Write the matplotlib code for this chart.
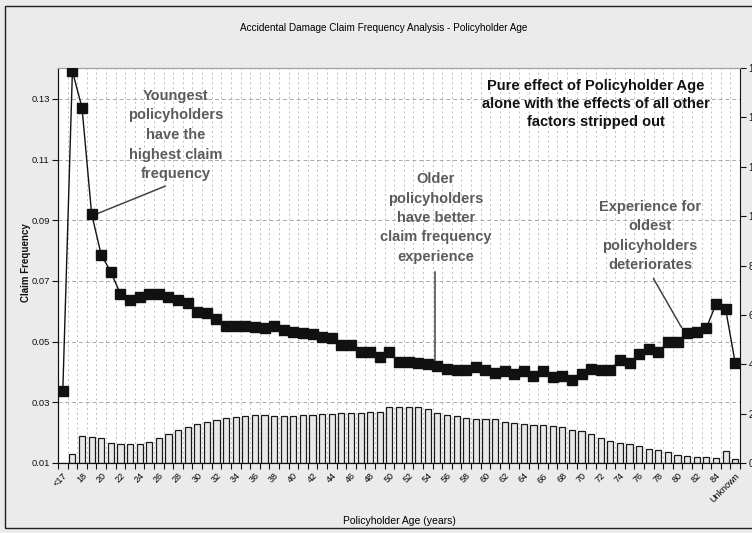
import matplotlib
matplotlib.use('Agg')
import matplotlib.pyplot as plt
from matplotlib.patches import Rectangle
from matplotlib.ticker import FixedLocator

# ---------------- data ----------------
categories = ['<17'] + [str(a) for a in range(17, 86)] + ['Unknown']

claim_frequency = [
    0.0338, 0.1392, 0.1271, 0.0921, 0.0786, 0.0730, 0.0657, 0.0637, 0.0647, 0.0657,
    0.0657, 0.0648, 0.0637, 0.0628, 0.0597, 0.0594, 0.0574, 0.0552, 0.0552, 0.0553,
    0.0547, 0.0546, 0.0553, 0.0538, 0.0533, 0.0530, 0.0525, 0.0514, 0.0511, 0.0489,
    0.0489, 0.0466, 0.0466, 0.0449, 0.0466, 0.0433, 0.0433, 0.0430, 0.0426, 0.0420,
    0.0410, 0.0407, 0.0407, 0.0416, 0.0407, 0.0397, 0.0403, 0.0393, 0.0403, 0.0387,
    0.0403, 0.0384, 0.0387, 0.0374, 0.0393, 0.0410, 0.0407, 0.0407, 0.0440, 0.0430,
    0.0459, 0.0476, 0.0466, 0.0499, 0.0499, 0.0529, 0.0532, 0.0545, 0.0624, 0.0608,
    0.0430,
]

exposure = [
    0.00, 0.36, 1.10, 1.07, 1.00, 0.82, 0.76, 0.76, 0.76, 0.86,
    1.00, 1.16, 1.34, 1.47, 1.57, 1.65, 1.74, 1.81, 1.85, 1.90,
    1.94, 1.93, 1.90, 1.90, 1.90, 1.93, 1.94, 1.98, 1.99, 2.04,
    2.04, 2.04, 2.08, 2.08, 2.25, 2.28, 2.28, 2.28, 2.19, 2.04,
    1.94, 1.90, 1.81, 1.77, 1.77, 1.77, 1.67, 1.63, 1.58, 1.54,
    1.54, 1.50, 1.44, 1.34, 1.30, 1.16, 1.03, 0.91, 0.82, 0.76,
    0.67, 0.57, 0.53, 0.44, 0.34, 0.27, 0.24, 0.25, 0.20, 0.50,
    0.15,
]

left_ticks = [0.01, 0.03, 0.05, 0.07, 0.09, 0.11, 0.13]
left_tick_labels = ['0.01', '0.03', '0.05', '0.07', '0.09', '0.11', '0.13']
right_ticks = [0, 2, 4, 6, 8, 10, 12, 14, 16]

title = 'Accidental Damage Claim Frequency Analysis - Policyholder Age'
x_label = 'Policyholder Age (years)'
y_label = 'Claim Frequency'

# ---------------- style ----------------
FONT = ['Liberation Sans Narrow', 'Liberation Sans', 'DejaVu Sans']
plt.rcParams['font.family'] = FONT
FIG_BG = '#ebebeb'
ANNOT = '#5c5c5c'
ANN_SIZE = 10.5
ANN_LS = 1.5

fig = plt.figure(figsize=(7.52, 5.33), dpi=100, facecolor=FIG_BG)
# outer frame
fig.add_artist(Rectangle((5 / 752, 5 / 533), 760 / 752, 522 / 533, transform=fig.transFigure,
                         fill=False, edgecolor='#202020', linewidth=1.0))

L, R, B, T = 58 / 752, 740 / 752, (533 - 463) / 533, (533 - 68) / 533
ax2 = fig.add_axes([L, B, R - L, T - B])                 # bars (right axis)
ax = fig.add_axes([L, B, R - L, T - B], sharex=ax2)     # line (left axis)
ax.set_zorder(ax2.get_zorder() + 1)
ax.patch.set_visible(False)
ax2.set_facecolor('white')

x = list(range(len(categories)))

ax2.bar(x, exposure, width=0.64, color='#e8e8e8', edgecolor='#1a1a1a', linewidth=0.9, zorder=2)
ax2.set_ylim(0, 16)
ax2.yaxis.tick_right()
ax2.set_yticks(right_ticks)
ax2.tick_params(axis='y', which='major', direction='out', length=4, width=0.8,
                labelsize=7, pad=2, colors='#111111')

ax.plot(x, claim_frequency, color='#111111', linewidth=1.0, marker='s', markersize=6.5,
        markerfacecolor='#111111', markeredgecolor='#111111', zorder=5)
ax.set_ylim(0.01, 0.1402)
ax.set_xlim(-0.5, len(categories) - 0.5)
ax.set_yticks(left_ticks)
ax.set_yticklabels(left_tick_labels)
ax.tick_params(axis='y', which='major', direction='out', length=4, width=0.8,
               labelsize=6.8, pad=2, colors='#111111')

# x ticks: labels every second category, tick marks at category boundaries
label_pos = list(range(0, len(categories), 2))
ax.set_xticks(label_pos)
ax.set_xticklabels([categories[i] for i in label_pos], rotation=45, ha='right',
                   rotation_mode='anchor', fontsize=6.5)
ax.tick_params(axis='x', which='major', length=0, pad=6)
ax.xaxis.set_minor_locator(FixedLocator([i + 0.5 for i in range(-1, len(categories))]))
ax.tick_params(axis='x', which='minor', direction='out', length=4, width=0.8, colors='#111111')
ax2.tick_params(axis='x', which='both', labelbottom=False, length=0)

# grid
ax.grid(axis='x', which='minor', color='#bdbdbd', linestyle=(0, (2, 3)), linewidth=0.7)
ax.grid(axis='y', which='major', color='#a8a8a8', linestyle=(0, (4, 3)), linewidth=0.7)

for a in (ax, ax2):
    a.spines['top'].set_color('#a0a0a0')
    a.spines['left'].set_color('#111111')
    a.spines['bottom'].set_color('#111111')
    a.spines['right'].set_color('#111111')
ax.spines['right'].set_visible(False)

fig.text(26 / 752, (533 - 263) / 533, y_label, rotation=90, ha='center', va='center',
         fontsize=7, fontweight='bold', color='#111111')
fig.text(399 / 752, (533 - 521) / 533, x_label, ha='center', va='center', fontsize=7.5)
fig.text(384 / 752, (533 - 28) / 533, title, ha='center', va='center', fontsize=7.2)

# annotations
def fx(px):
    return (px - 58) / 682

def fy(py):
    return (463 - py) / 395

ax.text(fx(176), fy(135), 'Youngest\npolicyholders\nhave the\nhighest claim\nfrequency',
        transform=ax.transAxes, ha='center', va='center', fontsize=ANN_SIZE, fontweight='bold',
        color=ANNOT, linespacing=ANN_LS, zorder=6)
ax.annotate('', xy=(fx(94), fy(215)), xytext=(fx(168), fy(185)), xycoords='axes fraction',
            textcoords='axes fraction', arrowprops=dict(arrowstyle='-', color='#444444', lw=1.1))

ax.text(fx(596), fy(104), 'Pure effect of Policyholder Age\nalone with the effects of all other\nfactors stripped out',
        transform=ax.transAxes, ha='center', va='center', fontsize=ANN_SIZE, fontweight='bold',
        color='#111111', linespacing=1.4, zorder=6)

ax.text(fx(436), fy(218), 'Older\npolicyholders\nhave better\nclaim frequency\nexperience',
        transform=ax.transAxes, ha='center', va='center', fontsize=ANN_SIZE, fontweight='bold',
        color=ANNOT, linespacing=ANN_LS, zorder=6)
ax.annotate('', xy=(fx(435), fy(364)), xytext=(fx(435), fy(269)), xycoords='axes fraction',
            textcoords='axes fraction', arrowprops=dict(arrowstyle='-', color='#444444', lw=1.1))

ax.text(fx(650), fy(236), 'Experience for\noldest\npolicyholders\ndeteriorates',
        transform=ax.transAxes, ha='center', va='center', fontsize=ANN_SIZE, fontweight='bold',
        color=ANNOT, linespacing=ANN_LS, zorder=6)
ax.annotate('', xy=(fx(683), fy(330)), xytext=(fx(652), fy(276)), xycoords='axes fraction',
            textcoords='axes fraction', arrowprops=dict(arrowstyle='-', color='#444444', lw=1.1))

fig.savefig('out.png', dpi=100, facecolor=FIG_BG)
